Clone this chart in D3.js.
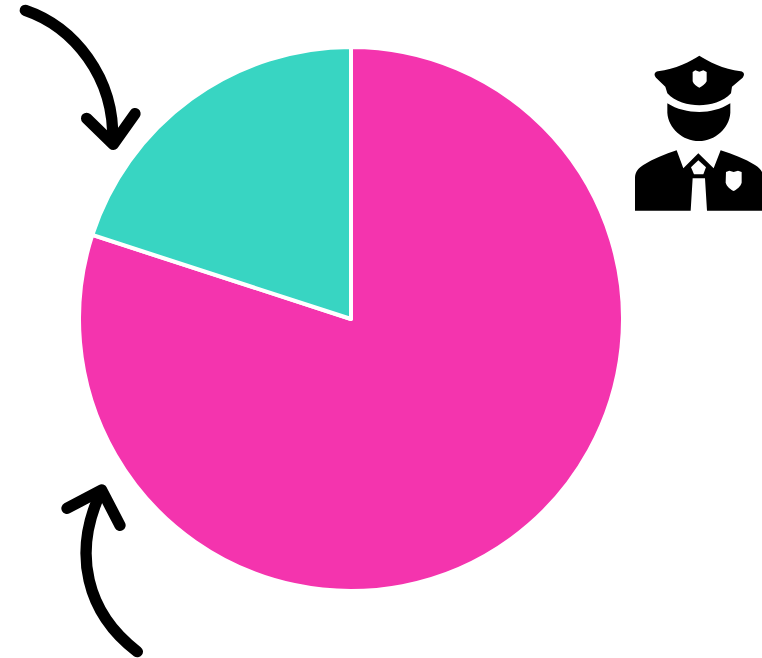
<!DOCTYPE html>
<html>
<head>
<meta charset="utf-8">
<script src="https://cdn.jsdelivr.net/npm/d3@7/dist/d3.min.js"></script>
<style>
html, body { margin: 0; padding: 0; background: #fff; }
svg { display: block; }
</style>
</head>
<body>
<svg id="chart" width="762" height="658"></svg>
<script>
// Slice shares, clockwise from twelve o'clock
const categories = ["Majority", "Minority"];
const shares = [80, 20];
const sliceColors = ["#F434AE", "#38D5C2"];

const svg = d3.select("#chart");

const slices = d3.pie().sort(null).value(d => d)(shares);
const arc = d3.arc().innerRadius(0).outerRadius(272);

svg.append("g")
  .attr("transform", "translate(351,319)")
  .selectAll("path")
  .data(slices)
  .join("path")
  .attr("d", arc)
  .attr("fill", (d, i) => sliceColors[i])
  .attr("stroke", "#fff")
  .attr("stroke-width", 4)
  .attr("stroke-linejoin", "round")
  .append("title")
  .text((d, i) => categories[i]);

// Hand-drawn arrows pointing at the two slices
const arrowDown = svg.append("g")
  .attr("transform", "translate(10,0) scale(0.3333)")
  .attr("fill", "none").attr("stroke", "#000")
  .attr("stroke-width", 34).attr("stroke-linecap", "round").attr("stroke-linejoin", "round");
arrowDown.append("path").attr("d", "M46,31 C190,80 315,230 308,425");
arrowDown.append("path").attr("d", "M230,355 L310,433 L375,341");

const arrowUp = svg.append("g")
  .attr("transform", "translate(50,470) scale(0.3333)")
  .attr("fill", "none").attr("stroke", "#000")
  .attr("stroke-width", 34).attr("stroke-linecap", "round").attr("stroke-linejoin", "round");
arrowUp.append("path").attr("d", "M262,545 C110,430 65,250 153,65");
arrowUp.append("path").attr("d", "M51,115 L155,60 L210,166");

// Officer pictogram
const officer = svg.append("g").attr("transform", "translate(620,40) scale(0.3333)");
// cap
officer.append("path").attr("fill", "#000").attr("d",
  "M238,47 C262,62 310,88 362,94 C373,96 375,105 368,113 L336,140 L333,160 C310,185 270,196 238,196 C205,196 165,185 142,160 L136,140 L108,113 C101,105 103,96 114,94 C165,88 215,62 238,47 Z");
officer.append("path").attr("fill", "#fff").attr("d",
  "M218,96 L226,91 L238,95 L250,91 L260,96 L260,124 C256,133 246,139 238,143 C230,139 220,133 218,124 Z");
// face
officer.append("path").attr("fill", "#000").attr("d",
  "M142,190 C170,208 205,216 238,216 C270,216 302,208 331,190 L331,218 C328,265 285,303 237,303 C188,303 145,265 142,218 Z");
// jacket
officer.append("path").attr("fill", "#000").attr("d",
  "M45,512 L45,412 C46,395 55,384 70,375 C100,357 135,342 170,331 L190,385 L235,340 L281,385 L302,331 C338,342 375,357 405,375 C420,384 429,395 430,412 L430,512 L261,512 L255,415 L218,415 L212,512 Z");
// shirt gap at the knot
officer.append("path").attr("fill", "#fff").attr("d",
  "M235,361 L258,382 L250,403 L222,403 L213,382 Z");
// breast badge
officer.append("path").attr("fill", "#fff").attr("d",
  "M318,396 L328,392 L341,396 L354,392 L365,396 L365,428 C361,441 350,448 341,453 C332,448 321,441 317,428 Z");
</script>
</body>
</html>
